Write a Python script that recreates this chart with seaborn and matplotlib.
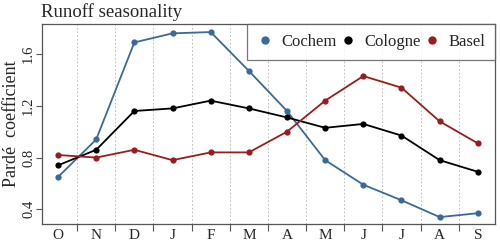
import numpy as np
import pandas as pd
import matplotlib
matplotlib.use("Agg")
import matplotlib.pyplot as plt
import seaborn as sns
from matplotlib.lines import Line2D

# monthly Pardé coefficients, hydrological year Oct-Sep
months = ["O", "N", "D", "J", "F", "M", "A", "M", "J", "J", "A", "S"]
cochem = [0.65, 0.94, 1.69, 1.76, 1.77, 1.47, 1.16, 0.78, 0.59, 0.47, 0.34, 0.37]
cologne = [0.74, 0.86, 1.16, 1.18, 1.24, 1.18, 1.11, 1.03, 1.06, 0.97, 0.78, 0.69]
basel = [0.82, 0.80, 0.86, 0.78, 0.84, 0.84, 1.00, 1.24, 1.43, 1.34, 1.08, 0.91]

stations = ["Cochem", "Cologne", "Basel"]
colors = ["#3a6a98", "#000000", "#9b1c1c"]

df = pd.DataFrame({
    "month": np.tile(np.arange(12), 3),
    "value": cochem + cologne + basel,
    "station": np.repeat(stations, 12),
})

sns.set_theme(style="white")
plt.rcParams["font.family"] = ["Liberation Serif", "DejaVu Serif"]

fig, ax = plt.subplots(figsize=(5, 2.43), dpi=100)
fig.subplots_adjust(left=0.084, right=0.99, top=0.9, bottom=0.08)

sns.lineplot(data=df, x="month", y="value", hue="station", palette=colors,
             marker="o", markersize=4.5, markeredgewidth=0, linewidth=1.3,
             ax=ax, legend=False)

ax.set_xlim(-0.42, 11.45)
ax.set_ylim(0.29, 1.83)

ax.set_xticks(np.arange(12))
ax.set_xticklabels(months, fontsize=11)
ax.set_xticks(np.arange(0.5, 11.5, 1), minor=True)
ax.tick_params(axis="x", which="major", length=0, pad=4)
ax.tick_params(axis="x", which="minor", length=5, width=0.8, color="#555555", direction="out", bottom=True)
ax.grid(True, axis="x", which="minor", linestyle=(0, (2, 2.5)), color="#b5b5b5", linewidth=0.6)

ax.set_yticks([0.4, 0.8, 1.2, 1.6])
ax.set_yticklabels(["0.4", "0.8", "1.2", "1.6"], rotation=90, va="center", fontsize=10.5)
ax.tick_params(axis="y", length=4, width=0.8, color="#555555", direction="out", left=True, pad=1)

for s in ax.spines.values():
    s.set_color("#555555")
    s.set_linewidth(0.9)

ax.set_xlabel("")
ax.set_ylabel("Pardé  coefficient", fontsize=13)
ax.yaxis.set_label_coords(-0.048, 0.5)
ax.set_title("Runoff seasonality", loc="left", fontsize=13.5, pad=5, x=-0.002)

handles = [Line2D([0], [0], linestyle="", marker="o", markersize=5, color=c) for c in colors]
leg = ax.legend(handles, stations, ncol=3, loc="upper right", fontsize=12,
                bbox_to_anchor=(0.4525, 0.82, 0.5475, 0.18), mode="expand",
                frameon=True, fancybox=False, borderaxespad=0, handletextpad=0.45,
                columnspacing=0.6, borderpad=0.6, handlelength=1.0)
leg.get_frame().set_edgecolor("#555555")
leg.get_frame().set_linewidth(0.9)

fig.savefig("out.png", dpi=100)
